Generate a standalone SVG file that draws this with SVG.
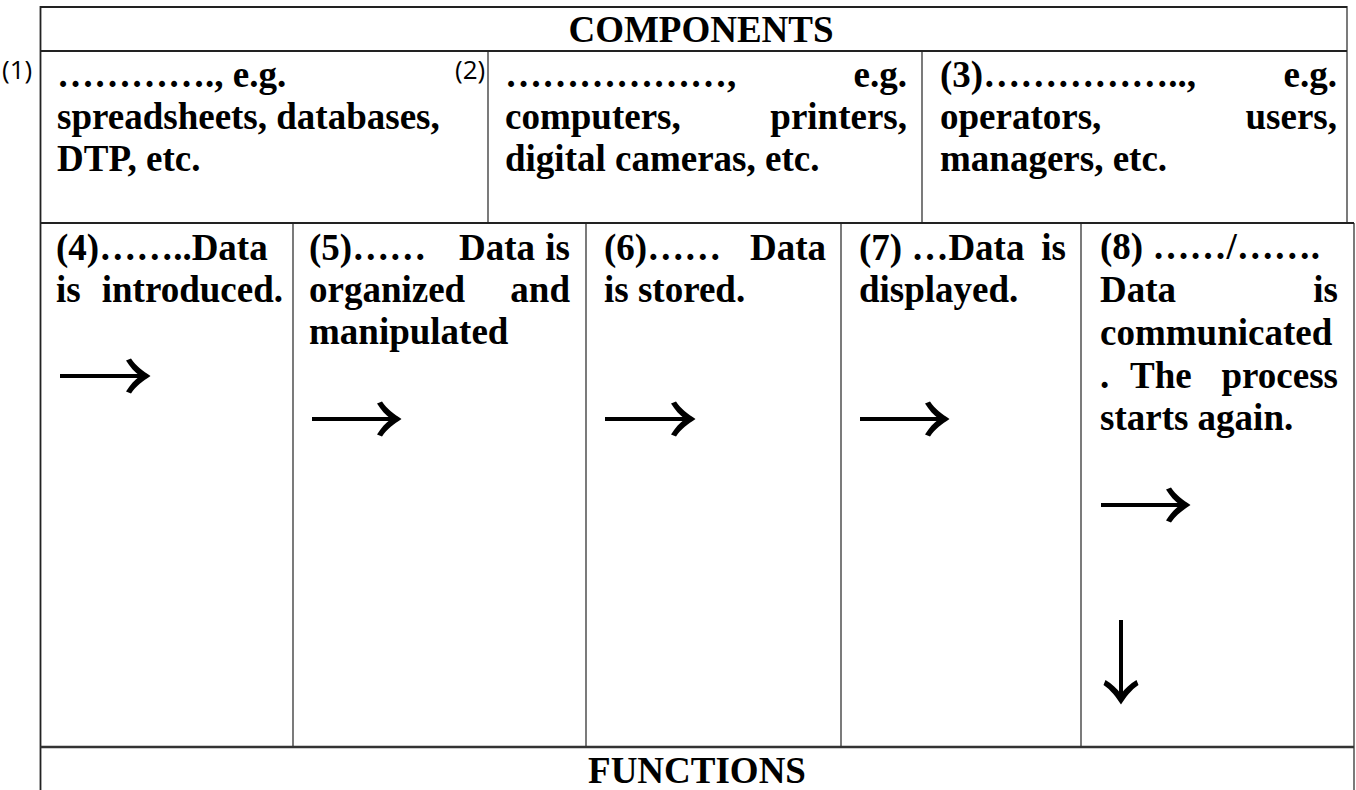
<svg xmlns="http://www.w3.org/2000/svg" width="1356" height="790" viewBox="0 0 1356 790">
<style>
.t{font-family:"Liberation Serif","Times New Roman",serif;font-weight:bold;font-size:37px;fill:#000}
.n{font-family:"Open Sans","Liberation Sans",sans-serif;font-size:26px;fill:#000}
.e{text-anchor:end}
.m{text-anchor:middle}
.b{stroke:#222;stroke-width:1.2;fill:none}
.bo{stroke:#222;stroke-width:1.8;fill:none}
.bt{stroke:#333;stroke-width:2.6;fill:none}
.sh{stroke:#000;stroke-width:4;fill:none}
.hd{fill:#000}
</style>
<defs>
<path id="hd" d="M1.5 0 C-6 -5 -13 -10 -18 -17.5 L-23 -15.5 C-19 -9 -14.5 -4 -9 0 C-14.5 4 -19 9 -23 15.5 L-18 17.5 C-13 10 -6 5 1.5 0 Z"/>
</defs>
<rect width="1356" height="790" fill="#fff"/>

<g id="grid">
<line class="bo" x1="40.5" y1="7" x2="1347" y2="7"/>
<line class="bo" x1="40.5" y1="51" x2="1347" y2="51"/>
<line class="bo" x1="40.5" y1="6" x2="40.5" y2="790"/>
<line class="b" x1="1347" y1="6" x2="1347" y2="223"/>
<line class="bo" x1="40.5" y1="223" x2="1354" y2="223"/>
<line class="b" x1="1354" y1="223" x2="1354" y2="790"/>
<line class="b" x1="488" y1="51" x2="488" y2="223"/>
<line class="b" x1="922" y1="51" x2="922" y2="223"/>
<line class="b" x1="293" y1="223" x2="293" y2="747"/>
<line class="b" x1="586" y1="223" x2="586" y2="747"/>
<line class="b" x1="841" y1="223" x2="841" y2="747"/>
<line class="b" x1="1081" y1="223" x2="1081" y2="747"/>
<line class="bt" x1="40.5" y1="747" x2="1354" y2="747"/>
</g>

<g id="header">
<text class="t m" x="701" y="42">COMPONENTS</text>
</g>

<g id="label1"><text class="n" x="2" y="79">(1)</text></g>
<g id="label2"><text class="n" x="455" y="79">(2)</text></g>

<g id="comp1">
<text class="t" x="57" y="87">…………., e.g.</text>
<text class="t" x="57" y="129">spreadsheets, databases,</text>
<text class="t" x="57" y="171">DTP, etc.</text>
</g>

<g id="comp2">
<text class="t" x="505" y="87">………………,</text>
<text class="t e" x="907" y="87">e.g.</text>
<text class="t" x="505" y="129">computers,</text>
<text class="t e" x="907" y="129">printers,</text>
<text class="t" x="505" y="171">digital cameras, etc.</text>
</g>

<g id="comp3">
<text class="t" x="940" y="87">(3)……………..,</text>
<text class="t e" x="1337" y="87">e.g.</text>
<text class="t" x="940" y="129">operators,</text>
<text class="t e" x="1337" y="129">users,</text>
<text class="t" x="940" y="171">managers, etc.</text>
</g>

<g id="func4">
<text class="t" x="56" y="260">(4)……..Data</text>
<text class="t" x="56" y="302">is</text>
<text class="t e" x="283" y="302">introduced.</text>
</g>

<g id="func5">
<text class="t" x="309" y="260">(5)……</text>
<text class="t" x="459" y="260">Data</text>
<text class="t e" x="570" y="260">is</text>
<text class="t" x="309" y="302">organized</text>
<text class="t e" x="570" y="302">and</text>
<text class="t" x="309" y="344">manipulated</text>
</g>

<g id="func6">
<text class="t" x="604" y="260">(6)……</text>
<text class="t e" x="826" y="260">Data</text>
<text class="t" x="604" y="302">is stored.</text>
</g>

<g id="func7">
<text class="t" x="859" y="260">(7) …Data</text>
<text class="t e" x="1066" y="260">is</text>
<text class="t" x="859" y="302">displayed.</text>
</g>

<g id="func8">
<text class="t" x="1100" y="259">(8) ……/…….</text>
<text class="t" x="1100" y="302">Data</text>
<text class="t e" x="1338" y="302">is</text>
<text class="t" x="1100" y="345">communicated</text>
<text class="t" x="1100" y="388">.</text>
<text class="t" x="1130" y="388">The</text>
<text class="t e" x="1338" y="388">process</text>
<text class="t" x="1100" y="430">starts again.</text>
</g>

<g id="footer">
<text class="t m" x="697" y="783">FUNCTIONS</text>
</g>

<g id="connectors">
<line class="sh" x1="60" y1="376" x2="142" y2="376"/>
<use href="#hd" transform="translate(149,376)"/>
<line class="sh" x1="312" y1="419" x2="393" y2="419"/>
<use href="#hd" transform="translate(400,419)"/>
<line class="sh" x1="605" y1="419" x2="687" y2="419"/>
<use href="#hd" transform="translate(694,419)"/>
<line class="sh" x1="860" y1="419" x2="941" y2="419"/>
<use href="#hd" transform="translate(948,419)"/>
<line class="sh" x1="1101" y1="505" x2="1182" y2="505"/>
<use href="#hd" transform="translate(1189,505)"/>
<line class="sh" x1="1121" y1="620" x2="1121" y2="696"/>
<use href="#hd" transform="translate(1121,703) rotate(90)"/>
</g>
</svg>
